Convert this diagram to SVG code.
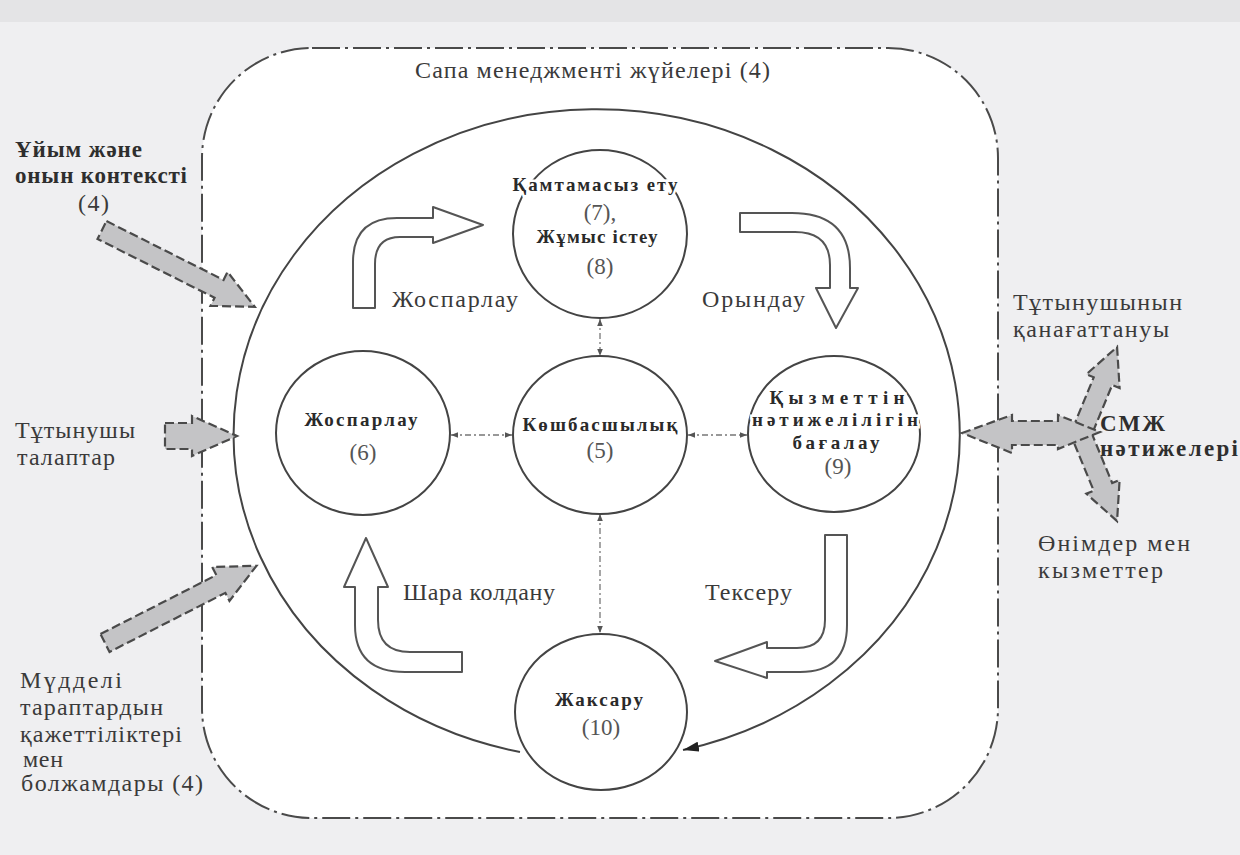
<svg xmlns="http://www.w3.org/2000/svg" width="1240" height="855" viewBox="0 0 1240 855">
<defs>
<style>
.t{font-family:"Liberation Serif","DejaVu Serif",serif;fill:#3a3a3a;font-size:24px}
.tb{font-family:"Liberation Serif","DejaVu Serif",serif;fill:#2e2e2e;font-size:23px;font-weight:bold}
.b{font-family:"Liberation Serif","DejaVu Serif",serif;fill:#2a2a2a;font-size:19px;font-weight:bold;text-anchor:middle;paint-order:stroke;stroke:#fff;stroke-width:5px}
.n{font-family:"Liberation Serif","DejaVu Serif",serif;fill:#555;font-size:23px;text-anchor:middle}
.node{fill:#fff;stroke:#444;stroke-width:2}
.blk{fill:#fff;stroke:#555;stroke-width:2;stroke-linejoin:round}
.gr{fill:#c4c4c6;stroke:#4a4a4a;stroke-width:2.2;stroke-dasharray:9 4}
.lnk{stroke:#777;stroke-width:1.3;stroke-dasharray:6 3 2 3;fill:none;marker-start:url(#sm);marker-end:url(#sm)}
</style>
<marker id="sm" viewBox="0 0 10 10" refX="10" refY="5" markerWidth="7" markerHeight="7" orient="auto-start-reverse" markerUnits="userSpaceOnUse"><path d="M0,1 L10,5 L0,9 Z" fill="#555"/></marker>
<marker id="big" viewBox="0 0 16 10" refX="16" refY="5" markerWidth="16" markerHeight="10" orient="auto" markerUnits="userSpaceOnUse"><path d="M0,0 L16,5 L0,10 Z" fill="#222"/></marker>
</defs>
<rect x="0" y="0" width="1240" height="855" fill="#efeff1"/>
<rect x="0" y="0" width="1240" height="22" fill="#e4e4e6"/>
<g id="system">
<rect x="202" y="48" width="796" height="770" rx="110" ry="110" fill="#fff" stroke="#4a4a4a" stroke-width="2" stroke-dasharray="28 5 3 5"/>
<text class="t" x="415" y="78" textLength="355" lengthAdjust="spacing">Сапа менеджменті жүйелері (4)</text>
</g>
<g id="connectors">
<path d="M520,752 A363,325 0 1 1 683,750" fill="none" stroke="#444" stroke-width="2" marker-end="url(#big)"/>
<line class="lnk" x1="600" y1="319" x2="600" y2="356"/>
<line class="lnk" x1="451" y1="435" x2="512" y2="435"/>
<line class="lnk" x1="688" y1="435" x2="747" y2="435"/>
<line class="lnk" x1="600" y1="514" x2="600" y2="633"/>
</g>
<g id="cycle-arrows">
<path class="blk" d="M353,308 L353,262 Q353,218 397,218 L433,218 L433,207 L483,225 L433,243 L433,237 L400,237 Q375,237 375,264 L375,308 Z"/>
<path class="blk" d="M740,213 L792,213 Q850,213 850,268 L850,288 L858,288 L836,328 L816,288 L830,288 L830,265 Q830,232 795,232 L740,232 Z"/>
<path class="blk" d="M825,535 L847,535 L847,625 Q847,672 800,672 L767,672 L767,678 L715,661 L767,642 L767,648 L797,648 Q825,648 825,620 Z"/>
<path class="blk" d="M462,652 L410,652 Q378,652 378,620 L378,587 L388,587 L366,538 L344,587 L355,587 L355,625 Q355,672 405,672 L462,672 Z"/>
<text class="t" x="392" y="307" textLength="126" lengthAdjust="spacing">Жоспарлау</text>
<text class="t" x="702" y="307" textLength="103" lengthAdjust="spacing">Орындау</text>
<text class="t" x="403" y="600" textLength="152" lengthAdjust="spacing">Шара колдану</text>
<text class="t" x="705" y="600" textLength="87" lengthAdjust="spacing">Тексеру</text>
</g>
<g id="inputs">
<polygon class="gr" transform="translate(102,230) rotate(26.7)" points="0,-10 131,-10 131,-19 171,0 131,19 131,10 0,10"/>
<polygon class="gr" points="165,423 192,423 192,416 237,436 192,456 192,449 165,449"/>
<polygon class="gr" transform="translate(105,643) rotate(-27)" points="0,-10 130,-10 130,-19 170,0 130,19 130,10 0,10"/>
<text class="tb" x="15" y="157" textLength="127" lengthAdjust="spacing">Ұйым және</text>
<text class="tb" x="15" y="183" textLength="172" lengthAdjust="spacing">онын контексті</text>
<text class="t" x="78" y="211" textLength="31" lengthAdjust="spacing">(4)</text>
<text class="t" x="15" y="438" textLength="120" lengthAdjust="spacing">Тұтынушы</text>
<text class="t" x="17" y="465" textLength="98" lengthAdjust="spacing">талаптар</text>
<text class="t" x="20" y="688" textLength="102" lengthAdjust="spacing">Мүдделі</text>
<text class="t" x="20" y="715" textLength="143" lengthAdjust="spacing">тараптардын</text>
<text class="t" x="20" y="742" textLength="162" lengthAdjust="spacing">қажеттіліктері</text>
<text class="t" x="23" y="767" textLength="40" lengthAdjust="spacing">мен</text>
<text class="t" x="21" y="791" textLength="182" lengthAdjust="spacing">болжамдары (4)</text>
</g>
<g id="outputs">
<polygon class="gr" transform="translate(1082,432) rotate(-67.6)" points="0,-10 55,-10 55,-18 92,0 55,18 55,10 0,10"/>
<polygon class="gr" transform="translate(1082,436) rotate(67.6)" points="0,-10 55,-10 55,-18 92,0 55,18 55,10 0,10"/>
<polygon class="gr" points="962,433 1012,415 1012,421 1058,421 1058,415 1100,432 1058,449 1058,445 1012,445 1012,453"/>
<text class="t" x="1013" y="310" textLength="169" lengthAdjust="spacing">Тұтынушынын</text>
<text class="t" x="1013" y="337" textLength="156" lengthAdjust="spacing">қанағаттануы</text>
<text class="tb" x="1100" y="431" textLength="65" lengthAdjust="spacing">СМЖ</text>
<text class="tb" x="1100" y="456" textLength="138" lengthAdjust="spacing">нәтижелері</text>
<text class="t" x="1038" y="551" textLength="152" lengthAdjust="spacing">Өнімдер мен</text>
<text class="t" x="1038" y="578" textLength="125" lengthAdjust="spacing">кызметтер</text>
</g>
<g id="node-support">
<ellipse class="node" cx="600" cy="234" rx="87" ry="84"/>
<text class="b" x="595" y="191" textLength="165" lengthAdjust="spacing">Қамтамасыз ету</text>
<text class="n" x="600" y="220">(7),</text>
<text class="b" x="597" y="243" textLength="121" lengthAdjust="spacing">Жұмыс істеу</text>
<text class="n" x="600" y="274">(8)</text>
</g>
<g id="node-planning">
<ellipse class="node" cx="363" cy="433" rx="87" ry="82"/>
<text class="b" x="361" y="426" textLength="113" lengthAdjust="spacing">Жоспарлау</text>
<text class="n" x="363" y="460">(6)</text>
</g>
<g id="node-leadership">
<ellipse class="node" cx="600" cy="435" rx="87" ry="79"/>
<text class="b" x="600" y="431" textLength="155" lengthAdjust="spacing">Көшбасшылық</text>
<text class="n" x="600" y="458">(5)</text>
</g>
<g id="node-evaluation">
<ellipse class="node" cx="834" cy="434" rx="86" ry="78"/>
<text class="b" x="837" y="404" textLength="135" lengthAdjust="spacing">Қызметтін</text>
<text class="b" x="835" y="426" textLength="166" lengthAdjust="spacing">нәтижелілігін</text>
<text class="b" x="836" y="449" textLength="87" lengthAdjust="spacing">бағалау</text>
<text class="n" x="838" y="474">(9)</text>
</g>
<g id="node-improvement">
<ellipse class="node" cx="601" cy="712" rx="86" ry="78"/>
<text class="b" x="599" y="706" textLength="88" lengthAdjust="spacing">Жаксару</text>
<text class="n" x="601" y="735">(10)</text>
</g>
</svg>
